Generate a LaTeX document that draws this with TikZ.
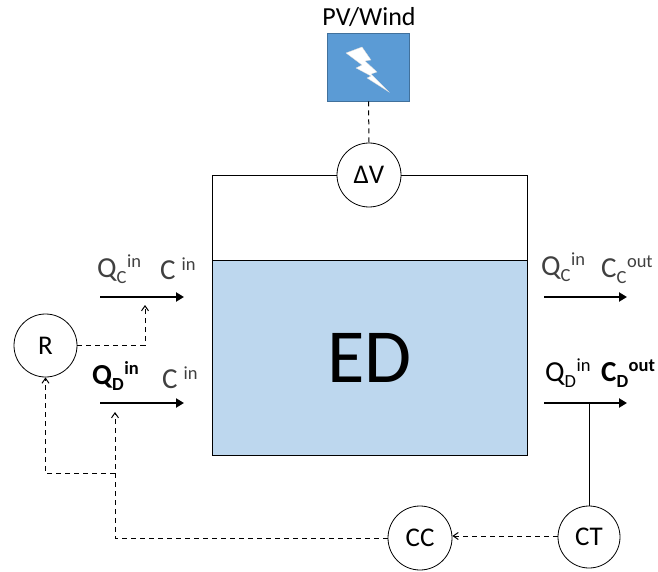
\documentclass[tikz,border=0pt]{standalone}
\usepackage{fontspec}
\setmainfont{Carlito}
\usetikzlibrary{arrows.meta}
\definecolor{edfill}{HTML}{BDD7EE}
\definecolor{pvfill}{HTML}{5B9BD5}
\definecolor{pvedge}{HTML}{41719C}
\definecolor{txtgrey}{HTML}{404040}
\newcommand{\smallsize}{\fontsize{18.5}{18.5}\selectfont}
\newcommand{\qty}[3]{#1\raisebox{-6.5pt}{\smallsize #2}\kern.5pt\raisebox{9.5pt}{\smallsize #3}}
\newcommand{\cin}{C\kern6pt\raisebox{8.5pt}{\smallsize in}}
\tikzset{
  x=1pt,y=-1pt,
  circ/.style={draw=black,fill=white,circle,line width=.8pt,minimum size=#1,inner sep=0pt,font=\fontsize{27}{27}\selectfont},
  flow/.style={line width=2.8pt,-{Triangle[length=8pt,width=9pt]}},
  sig/.style={line width=1pt,dash pattern=on 5pt off 4pt,-{Straight Barb[length=5pt,width=7pt,line width=1pt]}},
  sigplain/.style={line width=1pt,dash pattern=on 5pt off 4pt},
  lab/.style={inner sep=0pt,anchor=base west,text=txtgrey,font=\fontsize{29}{29}\selectfont},
  labb/.style={lab,text=black},
}
\begin{document}
\begin{tikzpicture}
\useasboundingbox (0,0) rectangle (658,572);
% ED tank
\node[draw=black,fill=edfill,line width=1pt,minimum width=315pt,minimum height=195pt,inner sep=0pt,font=\fontsize{76.5}{76.5}\selectfont] (ed) at (369.5,357.5) {ED};
% source
\node[draw=pvedge,fill=pvfill,line width=.8pt,minimum width=82pt,minimum height=68pt,inner sep=0pt] (pv) at (368.5,67) {};
\node[inner sep=0pt,anchor=base,font=\fontsize{26}{26}\selectfont] (pvl) at (369,26) {PV/Wind};
\draw[fill=white,draw=white!85!black,line width=.3pt] (346,53) -- (362,47) -- (371,60) -- (365,61) -- (377,72) -- (371,74) -- (389,92) -- (367,78) -- (371,76) -- (356,68) -- (362,65) -- cycle;
% nodes
\node[circ=64pt] (dv) at (369,175) {ΔV};
\node[circ=63pt] (r) at (45.5,345.5) {R};
\node[circ=64pt] (cc) at (420,538) {CC};
\node[circ=62pt] (ct) at (589,537) {CT};
% wire to the tank
\coordinate (wl) at (212,175);
\coordinate (wr) at (527,175);
\coordinate (wlb) at (212,260);
\coordinate (wrb) at (527,260);
\draw[line width=.8pt] (dv.west) -- (wl) -- (wlb);
\draw[line width=.8pt] (dv.east) -- (wr) -- (wrb);
\draw[sigplain] (pv.south) -- (dv.north);
% flows
\coordinate (a1) at (100,297); \coordinate (a2) at (184,297);
\coordinate (b1) at (100,403); \coordinate (b2) at (184,403);
\coordinate (c1) at (544,297); \coordinate (c2) at (627,297);
\coordinate (d1) at (544,403); \coordinate (d2) at (627,403);
\draw[flow] (a1) -- (a2);
\draw[flow] (b1) -- (b2);
\draw[flow] (c1) -- (c2);
\draw[flow] (d1) -- (d2);
% labels
\node[lab] (l1) at (97,277) {\qty{Q}{C}{in}};
\node[lab] (l2) at (160,279) {\cin};
\node[labb,font=\fontsize{29}{29}\selectfont\bfseries] (l3) at (92,384) {\qty{Q}{D}{in}};
\node[lab] (l4) at (162,388) {\cin};
\node[lab] (l5) at (541,275) {\qty{Q}{C}{in}};
\node[lab] (l6) at (601,277) {\qty{C}{C}{out}};
\node[labb] (l7) at (545,381) {\qty{Q}{D}{in}};
\node[labb,font=\fontsize{29}{29}\selectfont\bfseries] (l8) at (601,381) {\qty{C}{D}{out}};
% control lines
\coordinate (rc) at (145,345.5);
\coordinate (rt) at (145,305);
\coordinate (j1) at (45.5,473);
\coordinate (j2) at (115,473);
\coordinate (j3) at (115,538);
\coordinate (j4) at (115,412);
\coordinate (ct0) at (589,403);
\draw[sig] (r.east) -- (rc) -- (rt);
\draw[sig] (j2) -- (j1) -- (r.south);
\draw[sig] (cc.west) -- (j3) -- (j4);
\draw[sig] (ct.west |- 0,536) -- (cc.east |- 0,536);
\draw[line width=.8pt] (ct0) -- (ct.north);
\end{tikzpicture}
\end{document}
